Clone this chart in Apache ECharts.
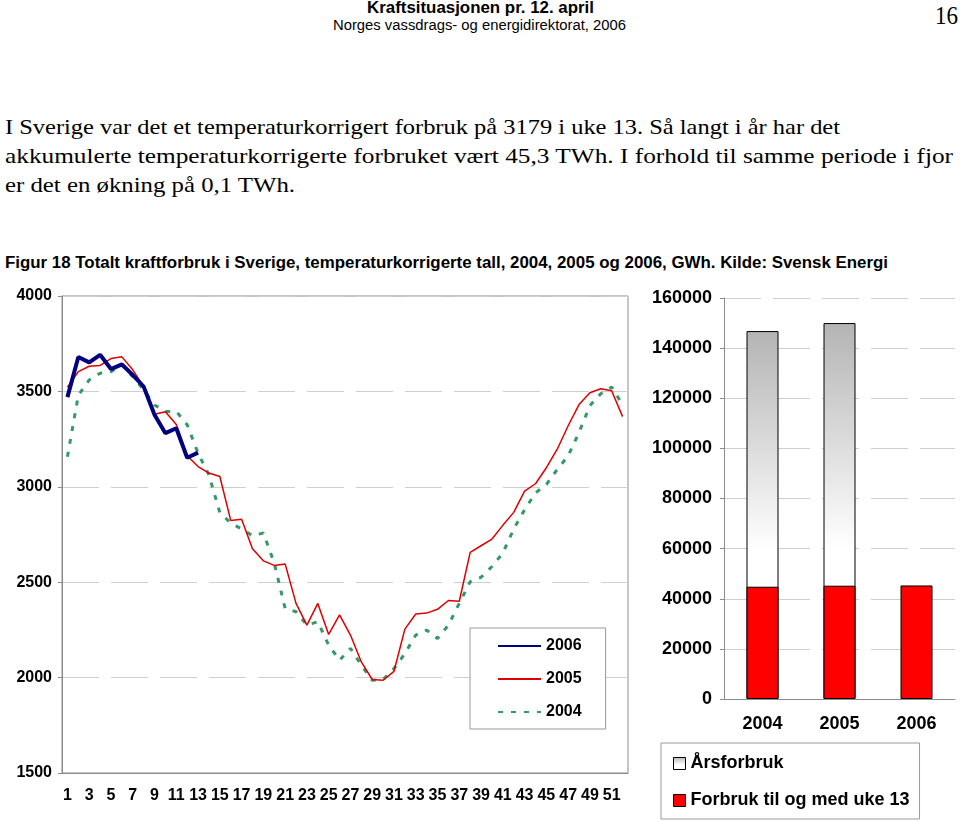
<!DOCTYPE html>
<html>
<head>
<meta charset="utf-8">
<script src="https://cdn.jsdelivr.net/npm/echarts@6/dist/echarts.min.js"></script>
<style>
  body { margin: 0; background: #fff; width: 960px; height: 822px; position: relative; overflow: hidden; }
  .t { position: absolute; white-space: nowrap; color: #000; transform-origin: 0 50%; }
  .sans { font-family: 'Liberation Sans', Arial, sans-serif; }
  .serif { font-family: 'Liberation Serif', 'Times New Roman', serif; }
</style>
</head>
<body>
  <div class="t sans" style="top:0px;left:367px;font-size:16px;font-weight:bold;line-height:16px" data-w="227">Kraftsituasjonen pr. 12. april</div>
  <div class="t sans" style="top:17px;left:333px;font-size:14px;line-height:16px" data-w="293">Norges vassdrags- og energidirektorat, 2006</div>
  <div class="t serif" style="top:2px;left:935px;font-size:26px;line-height:28px" data-w="23">16</div>

  <div class="t serif" style="top:113px;left:5px;font-size:22px;line-height:28px" data-w="835">I Sverige var det et temperaturkorrigert forbruk på 3179 i uke 13. Så langt i år har det</div>
  <div class="t serif" style="top:142px;left:5px;font-size:22px;line-height:28px" data-w="948">akkumulerte temperaturkorrigerte forbruket vært 45,3 TWh. I forhold til samme periode i fjor</div>
  <div class="t serif" style="top:171px;left:5px;font-size:22px;line-height:28px" data-w="290">er det en økning på 0,1 TWh.</div>

  <div class="t sans" style="top:253px;left:5px;font-size:16px;font-weight:bold;line-height:20px" data-w="883">Figur 18 Totalt kraftforbruk i Sverige, temperaturkorrigerte tall, 2004, 2005 og 2006, GWh. Kilde: Svensk Energi</div>

  <div id="weekChart" style="position:absolute;left:0;top:280px;width:640px;height:542px"></div>
  <div id="yearChart" style="position:absolute;left:640px;top:280px;width:320px;height:542px"></div>

<script>
  // ukenummer 1-52
  var weeks = ['1','2','3','4','5','6','7','8','9','10','11','12','13','14','15','16','17','18','19','20',
    '21','22','23','24','25','26','27','28','29','30','31','32','33','34','35','36','37','38','39','40',
    '41','42','43','44','45','46','47','48','49','50','51','52']

  // ukeforbruk, GWh
  var y2006 = [3470, 3680, 3652, 3692, 3617, 3642, 3586, 3525, 3378, 3281, 3307, 3152, 3179]
  var y2005 = [3522, 3604, 3632, 3636, 3672, 3681, 3613, 3526, 3380, 3393, 3327, 3163, 3106, 3072, 3054, 2824,
    2830, 2675, 2612, 2588, 2596, 2389, 2275, 2389, 2226, 2329, 2223, 2082, 1990, 1986, 2033, 2254, 2333,
    2338, 2358, 2404, 2400, 2656, 2691, 2726, 2798, 2866, 2977, 3016, 3100, 3197, 3320, 3431, 3493, 3514,
    3503, 3368]
  var y2004 = [3158, 3480, 3560, 3595, 3603, 3639, 3577, 3508, 3429, 3395, 3395, 3325, 3176, 3062, 2865, 2810,
    2779, 2744, 2758, 2600, 2363, 2345, 2275, 2293, 2170, 2091, 2153, 2065, 1986, 1990, 2047, 2126, 2223,
    2249, 2205, 2275, 2389, 2503, 2526, 2582, 2653, 2779, 2880, 2968, 3012, 3091, 3162, 3285, 3426, 3488,
    3523, 3430]

  // årsforbruk og forbruk t.o.m. uke 13, GWh
  var years = ['2004', '2005', '2006']
  var annual = [146800, 150000, null]
  var toWeek13 = [44800, 45200, 45300]

  // strekk tekstlinjene til samme bredde som i originalen
  document.querySelectorAll('.t').forEach(function (el) {
    var w = el.getBoundingClientRect().width
    var target = parseFloat(el.getAttribute('data-w'))
    if (w > 0 && target) el.style.transform = 'scaleX(' + (target / w) + ')'
  })

  var axisGrey = '#8c8c8c'
  var labelFont = { color: '#000', fontWeight: 'bold', fontFamily: 'Liberation Sans' }
  var plain = function (v) { return String(v) }

  var weekChart = echarts.init(document.getElementById('weekChart'))
  weekChart.setOption({
    animation: false,
    grid: { left: 62, top: 16, width: 566, height: 477, show: true, borderColor: axisGrey, borderWidth: 1 },
    legend: {
      data: ['2006', '2005', '2004'],
      orient: 'vertical',
      left: 470,
      top: 348,
      padding: [10, 24, 9, 27],
      itemWidth: 43,
      itemHeight: 14,
      itemGap: 17,
      borderColor: '#999',
      borderWidth: 1,
      backgroundColor: '#fff',
      itemStyle: { opacity: 0 },
      textStyle: Object.assign({ fontSize: 16 }, labelFont)
    },
    xAxis: {
      type: 'category',
      data: weeks,
      boundaryGap: true,
      axisLine: { lineStyle: { color: axisGrey } },
      axisTick: { interval: 0, length: 4, lineStyle: { color: axisGrey } },
      axisLabel: Object.assign({ interval: 1, margin: 15, fontSize: 16 }, labelFont)
    },
    yAxis: {
      type: 'value',
      min: 1500,
      max: 4000,
      interval: 500,
      axisLine: { show: true, lineStyle: { color: axisGrey } },
      axisTick: { show: true, length: 4, lineStyle: { color: axisGrey } },
      axisLabel: Object.assign({ margin: 10, fontSize: 16, formatter: plain }, labelFont),
      splitLine: { lineStyle: { color: '#cfcfcf', type: [37, 12] } }
    },
    series: [
      {
        name: '2004', type: 'line', data: y2004, symbol: 'none',
        lineStyle: { color: '#339966', width: 3, type: [5, 8] }, itemStyle: { color: '#339966' }
      },
      {
        name: '2005', type: 'line', data: y2005, symbol: 'none',
        lineStyle: { color: '#dd0000', width: 1.5 }, itemStyle: { color: '#dd0000' }
      },
      {
        name: '2006', type: 'line', data: y2006, symbol: 'none',
        lineStyle: { color: '#000080', width: 4 }, itemStyle: { color: '#000080' }
      }
    ]
  })

  var yearChart = echarts.init(document.getElementById('yearChart'))
  yearChart.setOption({
    animation: false,
    grid: { left: 84, top: 18, width: 231, height: 401 },
    legend: {
      data: ['Årsforbruk', 'Forbruk til og med uke 13'],
      orient: 'vertical',
      left: 21,
      top: 463,
      padding: [10, 10, 8, 12],
      icon: 'rect',
      itemWidth: 12,
      itemHeight: 12,
      itemGap: 16,
      borderColor: '#999',
      borderWidth: 1,
      backgroundColor: '#fff',
      itemStyle: { borderColor: '#000', borderWidth: 1 },
      textStyle: Object.assign({ fontSize: 18, lineHeight: 21 }, labelFont)
    },
    xAxis: {
      type: 'category',
      data: years,
      axisLine: { lineStyle: { color: axisGrey } },
      axisTick: { length: 5, lineStyle: { color: axisGrey } },
      axisLabel: Object.assign({ margin: 16, fontSize: 18 }, labelFont)
    },
    yAxis: {
      type: 'value',
      min: 0,
      max: 160000,
      interval: 20000,
      axisLine: { show: true, lineStyle: { color: axisGrey } },
      axisTick: { show: true, length: 4, lineStyle: { color: axisGrey } },
      axisLabel: Object.assign({ margin: 12, fontSize: 18, formatter: plain }, labelFont),
      splitLine: { lineStyle: { color: '#cfcfcf', type: [37, 12] } }
    },
    series: [
      {
        name: 'Årsforbruk',
        type: 'bar',
        data: annual,
        barWidth: 32,
        itemStyle: {
          color: new echarts.graphic.LinearGradient(0, 0, 0, 1, [
            { offset: 0, color: '#b4b4b4' },
            { offset: 0.6, color: '#ffffff' },
            { offset: 1, color: '#ffffff' }
          ]),
          borderColor: '#000',
          borderWidth: 1
        }
      },
      {
        name: 'Forbruk til og med uke 13',
        type: 'bar',
        data: toWeek13,
        barWidth: 32,
        barGap: '-100%',
        itemStyle: { color: '#ff0000', borderColor: '#000', borderWidth: 1 }
      }
    ]
  })
</script>
</body>
</html>
